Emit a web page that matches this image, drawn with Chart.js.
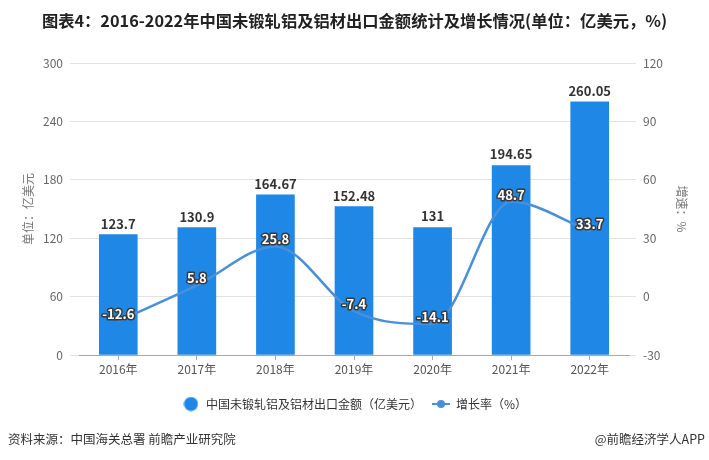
<!DOCTYPE html>
<html>
<head>
<meta charset="utf-8">
<script src="https://cdn.jsdelivr.net/npm/chart.js@4"></script>
<style>
  html, body { margin: 0; padding: 0; background: #fff; }
  #wrap { position: relative; width: 709px; height: 460px; overflow: hidden;
          font-family: "Noto Sans CJK SC", "Noto Sans", sans-serif; }
  #chart { position: absolute; left: 0; top: 0; }
  .title { position: absolute; left: 0; width: 709px; top: 9px; text-align: center;
           font-family: "Liberation Sans Narrow", "Noto Sans CJK SC", sans-serif;
           font-weight: bold; font-size: 16.3px; color: #222; line-height: 22px; }
  .src { position: absolute; left: 8px; top: 429px; font-size: 12.5px; color: #333; }
  .app { position: absolute; right: 4px; top: 429px; font-size: 12.5px; color: #333; }
</style>
</head>
<body>
<div id="wrap">
  <canvas id="chart" width="709" height="460"></canvas>
  <div class="title">图表4：2016-2022年中国未锻轧铝及铝材出口金额统计及增长情况(单位：亿美元，%)</div>
  <div class="src">资料来源：中国海关总署 前瞻产业研究院</div>
  <div class="app">@前瞻经济学人APP</div>
</div>
<script>
// data
const years = ['2016年', '2017年', '2018年', '2019年', '2020年', '2021年', '2022年'];
const exportValue = [123.7, 130.9, 164.67, 152.48, 131, 194.65, 260.05];
const growthRate = [-12.6, 5.8, 25.8, -7.4, -14.1, 48.7, 33.7];
const leftTicks = [0, 60, 120, 180, 240, 300];
const rightTicks = [-30, 0, 30, 60, 90, 120];

const barColor = '#1f87e5';
const lineColor = '#4a8fda';
const gridColor = '#e2e2e2';
const axisColor = '#a8a8a8';
const cjkFont = '"Noto Sans CJK SC", "Noto Sans", sans-serif';

// legend icons
function makeIcon(w, h, draw) {
  const c = document.createElement('canvas');
  c.width = w; c.height = h;
  draw(c.getContext('2d'));
  return c;
}
const barIcon = makeIcon(15, 15, ctx => {
  ctx.fillStyle = barColor;
  ctx.beginPath(); ctx.arc(7.5, 7.5, 7, 0, Math.PI * 2); ctx.fill();
});
const lineIcon = makeIcon(18, 10, ctx => {
  ctx.strokeStyle = lineColor; ctx.lineWidth = 2;
  ctx.beginPath(); ctx.moveTo(0, 5); ctx.lineTo(18, 5); ctx.stroke();
  ctx.fillStyle = lineColor;
  ctx.beginPath(); ctx.arc(9, 5, 4, 0, Math.PI * 2); ctx.fill();
});

// value labels
const valueLabels = {
  id: 'valueLabels',
  afterDatasetsDraw(chart) {
    const ctx = chart.ctx;
    ctx.save();
    ctx.textAlign = 'center';
    ctx.textBaseline = 'middle';
    chart.getDatasetMeta(0).data.forEach((bar, i) => {
      ctx.font = 'bold 13px ' + cjkFont;
      ctx.fillStyle = '#333';
      ctx.fillText(String(exportValue[i]), bar.x, bar.y - 11);
    });
    chart.getDatasetMeta(1).data.forEach((pt, i) => {
      ctx.font = 'bold 13px ' + cjkFont;
      ctx.lineWidth = 3;
      ctx.lineJoin = 'round';
      ctx.strokeStyle = '#3a3a3a';
      ctx.strokeText(String(growthRate[i]), pt.x, pt.y - 7);
      ctx.fillStyle = '#fff';
      ctx.fillText(String(growthRate[i]), pt.x, pt.y - 7);
    });
    ctx.restore();
  }
};

new Chart(document.getElementById('chart'), {
  type: 'bar',
  data: {
    labels: years,
    datasets: [
      {
        type: 'bar',
        label: '中国未锻轧铝及铝材出口金额（亿美元）',
        data: exportValue,
        backgroundColor: barColor,
        barThickness: 38,
        yAxisID: 'y',
        order: 1,
        pointStyle: barIcon
      },
      {
        type: 'line',
        label: '增长率（%）',
        data: growthRate,
        borderColor: lineColor,
        backgroundColor: lineColor,
        borderWidth: 2.5,
        cubicInterpolationMode: 'monotone',
        pointRadius: 0,
        pointStyle: lineIcon,
        yAxisID: 'y1',
        order: 0
      }
    ]
  },
  options: {
    responsive: false,
    animation: false,
    layout: { padding: { top: 63, bottom: 40, left: 0, right: 0 } },
    plugins: {
      legend: {
        position: 'bottom',
        labels: {
          usePointStyle: true,
          pointStyleWidth: 18,
          boxHeight: 12,
          padding: 10,
          color: '#333',
          font: { size: 12, family: cjkFont },
          sort: (a, b) => a.datasetIndex - b.datasetIndex
        }
      },
      tooltip: { enabled: false }
    },
    scales: {
      x: {
        afterFit: s => { s.height = 33; },
        grid: { display: true, drawOnChartArea: false, offset: false, tickLength: 5, color: axisColor },
        border: { color: axisColor },
        ticks: { color: '#555', padding: 2, font: { size: 12, family: cjkFont } }
      },
      y: {
        position: 'left',
        min: 0, max: 300,
        afterFit: s => { s.width = 79; },
        afterBuildTicks: s => { s.ticks = leftTicks.map(v => ({ value: v })); },
        grid: { color: gridColor, tickLength: 9 },
        border: { display: false },
        ticks: { color: '#666', padding: 7, font: { size: 12, family: cjkFont } },
        title: { display: true, text: '单位：亿美元', color: '#777', padding: { top: 21, bottom: 0 },
                 font: { size: 12, family: cjkFont } }
      },
      y1: {
        position: 'right',
        min: -30, max: 120,
        afterFit: s => { s.width = 80; },
        afterBuildTicks: s => { s.ticks = rightTicks.map(v => ({ value: v })); },
        grid: { drawOnChartArea: false, color: gridColor, tickLength: 7 },
        border: { display: false },
        ticks: { color: '#666', padding: 7, font: { size: 12, family: cjkFont } },
        title: { display: true, text: '增速：%', color: '#777', padding: { top: 20, bottom: 0 },
                 font: { size: 12, family: cjkFont } }
      }
    }
  },
  plugins: [valueLabels]
});
</script>
</body>
</html>
